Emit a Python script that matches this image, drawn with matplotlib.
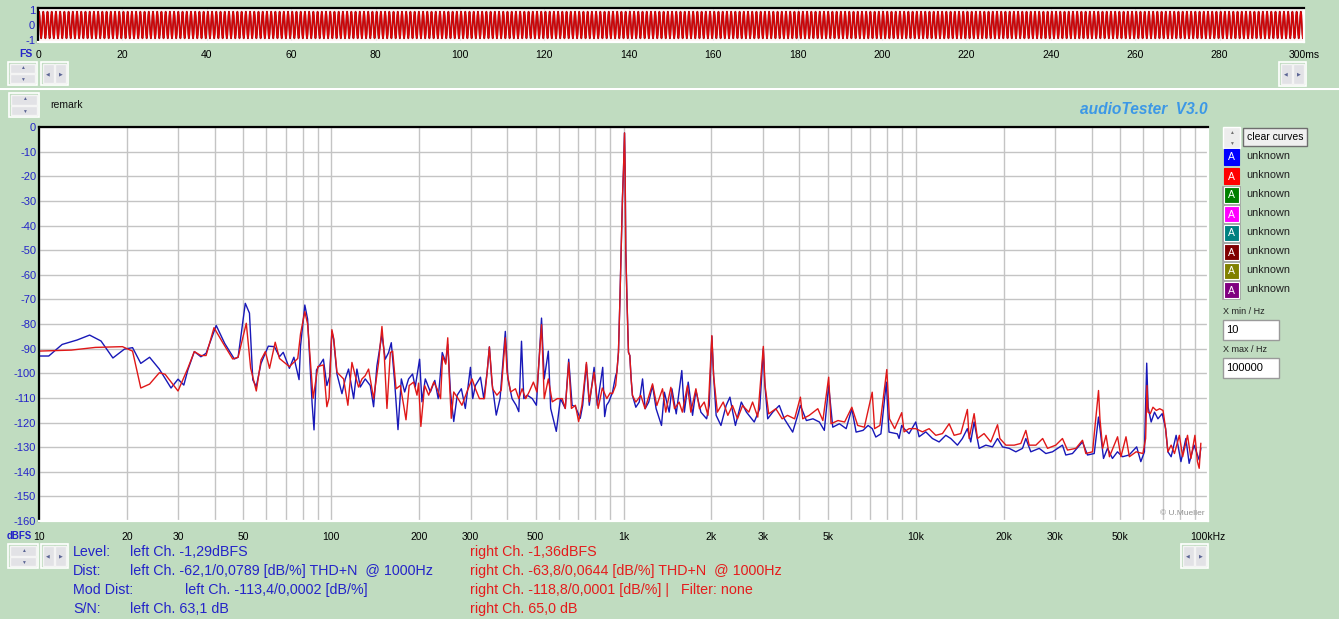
import numpy as np
import matplotlib
matplotlib.use('Agg')
import matplotlib.pyplot as plt
from matplotlib.patches import Rectangle

plt.rcParams['font.family'] = ['Liberation Sans', 'DejaVu Sans']

# ---- spectrum data (Hz, dBFS) ----
left_hz = [10, 10.8, 12, 13.5, 14.9, 16.3, 17.9, 19.6, 20.9, 22.3, 23.9, 25.8, 28.3, 29.9, 31.3, 32.3,
           34, 35.8, 37.3, 40.4, 43.2, 46.6, 48, 50.8, 52.5, 53.9, 55.4, 57.5, 60.9, 63.9, 66.5, 68.5,
           71.9, 74.5, 77.6, 78.5, 81.2, 83, 86, 87.3, 89, 92, 94, 96.6, 98.7, 100.5,
           101.9, 104.6, 108.8, 111.7, 114.6, 119.3, 122.4, 125.7, 130.7, 136, 139.6, 143.3, 149.1, 153,
           157.1, 160.5, 164.8, 169.2, 173.7, 178.3, 183.9, 189.8, 193.8, 200.6, 204.3, 209.8, 218.4,
           226.1, 232.2, 239.8, 246.5, 250.4, 255.8, 262.5, 269.8, 278.7, 287.6, 299.4, 304.9, 311.3,
           324, 332.6, 341.5, 347.6, 354.6, 366.9, 378.1, 394.1, 402.3, 415.5, 429.1, 438.3, 447.7,
           455.9, 468.4, 487.4, 503.4, 524.2, 535.5, 553.1, 563.4, 588.9, 608.5, 632.1, 649.4, 667,
           684.6, 711.1, 725, 746.6, 763.7, 793.3, 813, 849, 862, 875, 891, 917, 940,
           949, 961, 971, 982, 992, 1000, 1008, 1013, 1018, 1029, 1040, 1051, 1062, 1073,
           1102, 1132, 1162, 1186, 1220, 1257, 1293, 1349, 1380, 1433, 1464, 1515, 1583, 1615, 1665,
           1723, 1769, 1840, 1925, 1965, 2006, 2034, 2075, 2155, 2245, 2313, 2365, 2415, 2530, 2635,
           2801, 2925, 3009, 3041, 3115, 3240, 3413, 3550, 3792, 3945, 4030, 4225, 4450, 4680, 4866,
           5036, 5200, 5480, 5780, 6043, 6250, 6600, 6870, 7100, 7300, 7600, 7929, 8100, 8650,
           8768, 8950, 9122, 9488, 10000, 10266, 10822, 11405, 12020, 12668, 13175, 13886, 14441,
           15018, 15423, 15838, 16480, 17370, 18307, 19045, 19810, 20882, 22003, 23190, 23806, 24760,
           26450, 27870, 29370, 31770, 32610, 34370, 37200, 38700, 40800, 42200, 42700, 43900, 45300,
           47100, 49000, 51000, 53700, 57000, 58900, 60600, 61700, 62400, 63900, 65600, 67400, 69700,
           71600, 72900, 74800, 77800, 80800, 84000, 86200, 89600, 92000, 93300, 94500]
left_db = [-93, -93, -88.3, -86.5, -84.5, -86.9, -93.8, -90.2, -89.6, -96, -93.5, -98.3, -106, -102.4, -104.8, -98.7,
           -91.2, -93.3, -91.9, -80.6, -87.9, -94.2, -93.5, -71.6, -75.6, -102.7, -105.4, -96, -89, -89.2, -93.3, -91.5,
           -98, -93.5, -102.6, -89, -72.3, -78, -112.3, -123, -98.7, -96, -94.3, -105, -101.4, -83,
           -86.3, -100.3, -108.3, -102.3, -98.3, -110.3, -98.3, -105.6, -102.3, -105, -113.6, -97, -84.3, -94.3,
           -91.6, -87.6, -103.6, -122.9, -102.3, -107.6, -102.3, -100.3, -105.6, -94.3, -111.6, -102.3, -107.6,
           -102.9, -110.3, -91.6, -95.6, -88.3, -107.6, -119.6, -108.9, -106.3, -114.3, -97.6, -110.3, -105,
           -101.6, -110.3, -99.6, -89.3, -103.6, -117, -110.3, -83, -102.3, -110.3, -113, -115.6, -87,
           -110.3, -108.9, -110.3, -113, -77.6, -102.3, -91, -114.3, -123.6, -110.3, -114.3, -94.3, -113,
           -113.6, -118.3, -113, -96.3, -113, -97.6, -113, -97.6, -117.6, -113, -111.6, -107.7, -101,
           -99.6, -91.5, -72.6, -49.7, -28.7, -17.3, -2.4, -17.3, -49.7, -72.6, -91.5, -92.8, -102.3, -109,
           -113.8, -111.7, -102.3, -114.4, -111.7, -105, -114.4, -121.2, -107.7, -115.8, -106.3, -116.5, -98.9, -115.8, -103.6,
           -117.1, -107, -115.8, -118.5, -113.1, -85, -101, -117.1, -121.2, -113.1, -109.7, -115.8, -121.2, -111.7, -115.8,
           -119.8, -114.4, -90.1, -103.6, -118.5, -115.8, -113.1, -118.5, -123.9, -117.1, -113.1, -119.2, -118.5, -119.8, -123.2,
           -105, -121.9, -120.5, -122.5, -114.4, -123.9, -123.2, -121.2, -122.5, -125.9, -124.6, -103.6, -123.9, -124.6,
           -126.5, -121.2, -122.5, -124.5, -119.8, -125.8, -123.8, -126.5, -127.9, -125.2, -126.5, -129.2, -126.5,
           -122.5, -127.9, -119.8, -130.5, -129.2, -129.9, -126.5, -129.9, -130.5, -131.9, -130.5, -126.5, -131.9,
           -130.5, -132.6, -131.9, -129.2, -133.2, -132.6, -127.9, -133.2, -132.6, -117.8, -122.5, -134.6, -130.5,
           -134.6, -131.9, -133.9, -133.2, -129.9, -135.9, -131.9, -95.9, -113.8, -119.8, -115.8, -118.5, -116.4,
           -122.5, -131.9, -133.9, -125.2, -135.9, -126.5, -136.6, -129.2, -133.2, -135.2, -130.5]

right_hz = [10, 12.9, 15.6, 19.3, 20.9, 22.3, 23.9, 25.8, 27, 29.9, 32.3, 34, 35.8, 37.3, 39.7, 42.7,
            46, 48, 51.2, 53, 55.4, 57.5, 59.5, 61.5, 64.3, 66.5, 71.9, 76.8, 78.5, 81.2, 83, 86.7,
            90, 94, 96.6, 98.3, 100.5, 102, 104.6, 107.4, 110.2, 114, 117.7, 120.8, 124, 127.4, 130.7,
            134.2, 139.6, 145.2, 149.1, 151.9, 155.1, 159.3, 162.2, 166.6, 172.3, 176.9, 180.2, 184.8,
            191.3, 196.5, 199, 202.6, 208.7, 215.5, 224.3, 230.3, 236.6, 240.4, 246.5, 250.4, 253.9,
            257.4, 262.5, 271.7, 280, 291.2, 303.3, 311.3, 321.4, 334.3, 341.5, 347.6, 356.5, 368.8,
            381.6, 394.1, 399.5, 410.9, 426.9, 438.3, 449.9, 462.8, 475.4, 491.7, 505.3, 524.2, 535.5,
            553.1, 570.4, 593.5, 617.2, 632, 649.4, 663.4, 684.6, 702.2, 720.6, 746.6, 763.7, 793.3,
            818.8, 846.4, 876.6, 900, 917, 940, 949, 961, 971, 982, 992, 1000, 1008, 1013, 1018, 1029,
            1040, 1051, 1062, 1073, 1102, 1146, 1185, 1257, 1300, 1360, 1395, 1452, 1495, 1550, 1590,
            1655, 1700, 1769, 1820, 1889, 1945, 2006, 2034, 2095, 2194, 2275, 2360, 2455, 2555, 2685,
            2765, 2880, 3009, 3050, 3140, 3321, 3490, 3640, 3850, 4030, 4105, 4320, 4622, 4810, 5036,
            5130, 5420, 5710, 6043, 6330, 6670, 7096, 7230, 7540, 7960, 8130, 8470, 8955, 9122, 9488,
            10000, 10540, 11110, 11710, 12340, 13010, 13530, 14260, 15020, 15230, 15840, 16260, 17130,
            18060, 19050, 19400, 20350, 21720, 22890, 23810, 24440, 25770, 27180, 28250, 30140, 31770,
            33050, 35320, 37200, 38190, 40260, 42210, 42680, 43610, 44790, 46000, 49040, 50360, 52410,
            53810, 56770, 59880, 61180, 61840, 62320, 63470, 64820, 66550, 68330, 70160, 71600, 72900,
            74800, 76780, 79800, 81900, 85100, 87400, 90200, 92000, 93300, 94500]
right_db = [-91, -90.6, -89.5, -89.2, -91, -106, -104.4, -99.8, -100.4, -107.2, -98, -91.2, -92.8, -92.8, -81.5, -87.9,
            -94.2, -93.5, -79.7, -98, -107.2, -94.6, -91.2, -98, -87.4, -94, -97.3, -94, -84, -75, -80, -110.2,
            -97.3, -96.6, -113.6, -110, -82.3, -86, -99.6, -101, -102.3, -113, -95.6, -101, -105.6, -102.3, -101,
            -98.3, -110.3, -95.6, -81, -93, -114.3, -91.6, -91, -106.3, -105, -113, -118.9, -105,
            -103.6, -108.9, -104, -121.6, -105, -108.9, -103.6, -106.3, -110.3, -93, -96.3, -85.6, -103.6,
            -118.3, -107.6, -110.3, -113, -107.6, -102.3, -106.3, -110.3, -110.3, -99.6, -89.3, -106.3, -108.9,
            -106.9, -85.6, -99.6, -107.6, -106.3, -110.3, -106.3, -110.3, -107.6, -103.6, -107.6, -80.3, -110.3,
            -102.3, -111.6, -110.3, -110.3, -114.3, -95.6, -114.3, -113, -119.6, -113, -95.6, -111.6, -99.6,
            -114.3, -106, -110.3, -108, -108.3, -105, -99.6, -91.5, -72.6, -49.7, -28.7, -17.3, -2.4, -17.3, -49.7, -72.6,
            -91.5, -92.8, -102.3, -109, -111.7, -109, -114.4, -104.3, -113.1, -106.3, -115.8, -105.7, -114.4, -111.7, -115.8,
            -105, -115.8, -106.3, -114.4, -111.7, -117.1, -84.7, -101, -115.8, -111.7, -117.1, -113.1, -118.5, -113.1, -115.8,
            -111.7, -117.8, -89.1, -105, -116.5, -114.4, -118.5, -117.1, -118.5, -109.7, -118.5, -117.1, -114.4, -119.2, -101.6,
            -120.5, -119.2, -119.8, -113.8, -121.2, -121.9, -107.7, -122.5, -121.2, -98.5, -118.5, -122.5, -116, -123.8, -122.5,
            -122.5, -123.8, -122.5, -125.2, -124.5, -120.5, -125.2, -124.5, -114.7, -126.5, -116.4, -126.5, -124.5,
            -127.9, -120.9, -126.5, -129.2, -129.2, -128.5, -123.2, -129.2, -129.2, -126.5, -130.5, -129.2, -126.5,
            -131.2, -130.5, -127.2, -132.6, -131.9, -107, -118.5, -130.5, -125.2, -133.9, -125.8, -133.9, -125.8,
            -133.9, -131.9, -132.6, -126.5, -105, -115.8, -116.4, -113.8, -115.1, -114.4, -115.1, -122.5, -131.9,
            -129.2, -132.6, -125.2, -133.9, -125.2, -134.6, -125.2, -135.9, -138.6, -128.5]

# one cycle of the 1 kHz test tone as seen in the scope strip (8 samples / ms)
tone_cycle = [0.0, 0.61, 0.86, 0.61, 0.0, -0.61, -0.86, -0.61]
tone_cycles = 300

x_ticks = [10, 20, 30, 50, 100, 200, 300, 500, 1000, 2000, 3000, 5000, 10000, 20000, 30000, 50000, 100000]
x_labels = ['10', '20', '30', '50', '100', '200', '300', '500', '1k', '2k', '3k', '5k',
            '10k', '20k', '30k', '50k', '100kHz']
y_ticks = list(range(0, -161, -10))
t_ticks = list(range(0, 301, 20))
t_labels = [str(v) for v in t_ticks[:-1]] + ['300ms']

curve_names = ['unknown'] * 8
curve_colors = ['#0000FF', '#FF0000', '#008000', '#FF00FF', '#008080', '#800000', '#808000', '#800080']

row_names = ['Level:', 'Dist:', 'Mod Dist:', 'S/N:']
left_text = ['left Ch. -1,29dBFS', 'left Ch. -62,1/0,0789 [dB/%] THD+N  @ 1000Hz',
             'left Ch. -113,4/0,0002 [dB/%]', 'left Ch. 63,1 dB']
right_text = ['right Ch. -1,36dBFS', 'right Ch. -63,8/0,0644 [dB/%] THD+N  @ 1000Hz',
              'right Ch. -118,8/0,0001 [dB/%] |   Filter: none', 'right Ch. 65,0 dB']

W, H = 1339, 619
BG = '#C0DCC0'
BLUE = '#1818B8'
RED = '#E01818'
TXT_BLUE = '#2424C8'
TXT_RED = '#E41C1C'


def frac(l, t, r, b):
    return [l / W, 1 - b / H, (r - l) / W, (b - t) / H]


def sunken(a):
    for s in ['left', 'top']:
        a.spines[s].set_color('black')
        a.spines[s].set_linewidth(1.6)
    for s in ['right', 'bottom']:
        a.spines[s].set_color('white')
        a.spines[s].set_linewidth(1.6)


fig = plt.figure(figsize=(W / 100, H / 100), dpi=100, facecolor=BG)

# scope strip
wv = fig.add_axes(frac(38, 8, 1304, 42))
wv.set_facecolor('#FFF4F4')
wave = np.tile(tone_cycle, tone_cycles)
t = np.arange(wave.size) / len(tone_cycle)
wv.plot(t, wave, color='#9A1018', lw=1.3)
wv.plot(t, wave, color='#E80000', lw=0.7)
wv.set_xlim(0, 300)
wv.set_ylim(-1.1, 1.1)
wv.set_xticks(t_ticks, t_labels)
wv.set_yticks([1, 0, -1], ['1', '0', '-1'])
wv.tick_params(axis='x', length=0, pad=6, labelsize=7.5)
wv.tick_params(axis='y', length=0, pad=2, labelsize=8, labelcolor=TXT_BLUE)
wv.grid(axis='x', color='#E8E8E8', lw=0.8)
wv.set_axisbelow(True)
sunken(wv)

# spectrum
ax = fig.add_axes(frac(39, 127, 1208, 521))
ax.set_facecolor('white')
ax.set_xscale('log')
ax.plot(left_hz, left_db, color=BLUE, lw=1.0)
ax.plot(right_hz, right_db, color=RED, lw=1.0)
ax.set_xlim(10, 100000)
ax.set_ylim(-160, 0)
ax.set_xticks(x_ticks, x_labels)
ax.set_xticks([m * 10 ** e for e in range(1, 5) for m in range(1, 10)], minor=True)
ax.set_yticks(y_ticks, [str(v) for v in y_ticks])
ax.tick_params(axis='x', which='both', length=0, pad=8, labelsize=7.5)
ax.tick_params(axis='y', length=0, pad=2, labelsize=8, labelcolor=TXT_BLUE)
ax.grid(which='both', color='#C4C4C4', lw=1.0)
ax.set_axisbelow(True)
ax.text(0.9975, 0.01, '\u00a9 U.Mueller', transform=ax.transAxes, ha='right', va='bottom',
        fontsize=6, color='#909090')
sunken(ax)

# window chrome drawn in pixel coordinates
ui = fig.add_axes([0, 0, 1, 1], zorder=5)
ui.set_xlim(0, W)
ui.set_ylim(H, 0)
ui.axis('off')


def box(x0, y0, x1, y1, face='#E6E6E6', edge='white', lw=1.0):
    ui.add_patch(Rectangle((x0, y0), x1 - x0, y1 - y0, facecolor=face, edgecolor=edge, lw=lw))


def updown(x0, y0, x1, y1):
    box(x0, y0, x1, y1, face=BG, edge='white', lw=1.2)
    ym = (y0 + y1) / 2
    box(x0 + 2, y0 + 2, x1 - 2, ym - 0.5, face='#E2E2E6', edge='#F4F4F4')
    box(x0 + 2, ym + 0.5, x1 - 2, y1 - 2, face='#E2E2E6', edge='#F4F4F4')
    ui.text((x0 + x1) / 2, (y0 + ym) / 2, '\u25b2', ha='center', va='center', fontsize=3.5, color='#5A6494')
    ui.text((x0 + x1) / 2, (ym + y1) / 2, '\u25bc', ha='center', va='center', fontsize=3.5, color='#5A6494')


def leftright(x0, y0, x1, y1):
    box(x0, y0, x1, y1, face=BG, edge='white', lw=1.2)
    xm = (x0 + x1) / 2
    box(x0 + 2, y0 + 2, xm - 0.5, y1 - 2, face='#E2E2E6', edge='#F4F4F4')
    box(xm + 0.5, y0 + 2, x1 - 2, y1 - 2, face='#E2E2E6', edge='#F4F4F4')
    ui.text((x0 + xm) / 2, (y0 + y1) / 2, '\u25c0', ha='center', va='center', fontsize=3.5, color='#5A6494')
    ui.text((xm + x1) / 2, (y0 + y1) / 2, '\u25b6', ha='center', va='center', fontsize=3.5, color='#5A6494')


updown(8, 62, 37, 85)
leftright(41, 62, 68, 85)
leftright(1279, 62, 1306, 86)
ui.plot([0, W], [87.5, 87.5], color='#A8B8A8', lw=0.8)
ui.plot([0, W], [89, 89], color='white', lw=1.5)
updown(9, 93, 39, 117)
updown(8, 544, 38, 568)
leftright(41, 544, 68, 568)
leftright(1181, 544, 1208, 568)

ui.text(33, 54, 'FS', ha='right', va='center', fontsize=7.5, fontweight='bold', color=TXT_BLUE)
ui.text(32, 536, 'dBFS', ha='right', va='center', fontsize=7, fontweight='bold', color=TXT_BLUE)
ui.text(50, 105, 'remark', ha='left', va='center', fontsize=7.5, color='#101010')
ui.text(1208, 110, 'audioTester  V3.0', ha='right', va='center', fontsize=11.2, fontweight='bold',
        fontstyle='italic', color='#3C98E6')

# curve legend panel
box(1223, 127, 1240, 148, face='#EDEDED', edge='#FFFFFF')
ui.text(1231.5, 132, '\u25b2', ha='center', va='center', fontsize=3.5, color='#707070')
ui.text(1231.5, 143, '\u25bc', ha='center', va='center', fontsize=3.5, color='#707070')
box(1243, 128, 1307, 146, face='#F0F0F0', edge='#6E6E6E')
ui.text(1275, 137, 'clear curves', ha='center', va='center', fontsize=7.5, color='black')
for i, (name, col) in enumerate(zip(curve_names, curve_colors)):
    cy = 157 + 19 * i
    if i >= 2:
        box(1222, cy - 9, 1240, cy + 9, face='#A0A0A0', edge='#A0A0A0', lw=0.5)
    box(1223.5, cy - 8, 1239, cy + 8, face=col, edge=col if i < 2 else 'white', lw=0.8)
    ui.text(1231.3, cy + 0.5, 'A', ha='center', va='center', fontsize=7.5, color='white')
    ui.text(1246, cy - 1, name, ha='left', va='center', fontsize=7.8, color='#202020')

ui.text(1223, 312, 'X min / Hz', ha='left', va='center', fontsize=6.5, color='#202020')
box(1223, 320, 1279, 340, face='white', edge='#9A9A9A')
ui.text(1226, 330, '10', ha='left', va='center', fontsize=8, color='black')
ui.text(1223, 350, 'X max / Hz', ha='left', va='center', fontsize=6.5, color='#202020')
box(1223, 358, 1279, 378, face='white', edge='#9A9A9A')
ui.text(1226, 368, '100000', ha='left', va='center', fontsize=8, color='black')

# measurement readout
for i, name in enumerate(row_names):
    y = 552 + 19 * i
    ui.text(73, y, name, ha='left', va='center', fontsize=10.3, color=TXT_BLUE)
    ui.text(185 if name == 'Mod Dist:' else 130, y, left_text[i], ha='left', va='center',
            fontsize=10.3, color=TXT_BLUE)
    ui.text(470, y, right_text[i], ha='left', va='center', fontsize=10.3, color=TXT_RED)

fig.savefig('out.png', dpi=100, facecolor=BG)
